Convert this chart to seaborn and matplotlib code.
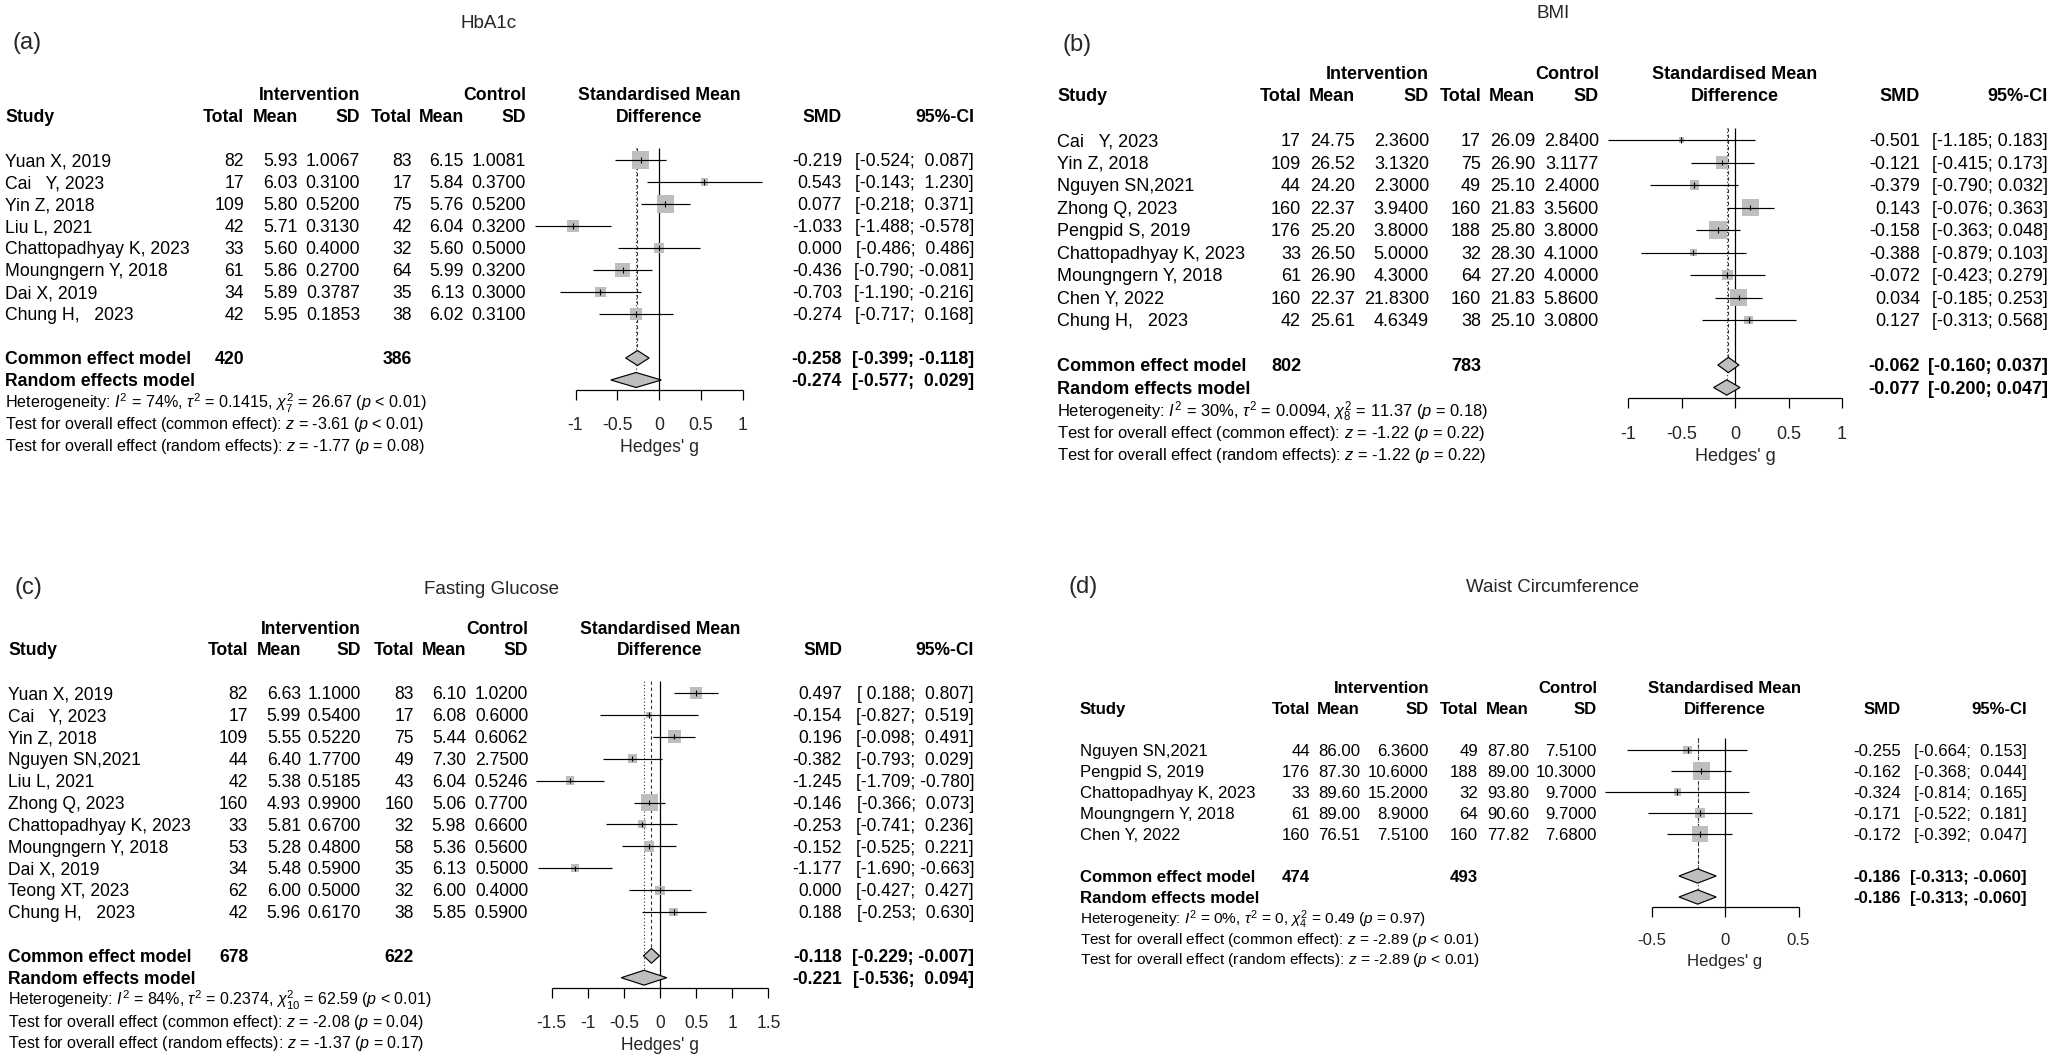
import numpy as np
import matplotlib
matplotlib.use('Agg')
import matplotlib.pyplot as plt
import matplotlib.transforms as mtransforms
import seaborn as sns

sns.set_theme(style='white')
plt.rcParams['font.family'] = ['Liberation Sans', 'DejaVu Sans']
plt.rcParams['mathtext.fontset'] = 'custom'
plt.rcParams['mathtext.rm'] = 'Liberation Sans'
plt.rcParams['mathtext.it'] = 'Liberation Sans:italic'
plt.rcParams['mathtext.bf'] = 'Liberation Sans:bold'

W, H = 2055, 1058
BOX = '#bebebe'

# --- (a) HbA1c ---
study_a = ['Yuan X, 2019', 'Cai   Y, 2023', 'Yin Z, 2018', 'Liu L, 2021',
           'Chattopadhyay K, 2023', 'Moungngern Y, 2018', 'Dai X, 2019', 'Chung H,   2023']
n1_a = [82, 17, 109, 42, 33, 61, 34, 42]
m1_a = [5.93, 6.03, 5.80, 5.71, 5.60, 5.86, 5.89, 5.95]
s1_a = [1.0067, 0.3100, 0.5200, 0.3130, 0.4000, 0.2700, 0.3787, 0.1853]
n2_a = [83, 17, 75, 42, 32, 64, 35, 38]
m2_a = [6.15, 5.84, 5.76, 6.04, 5.60, 5.99, 6.13, 6.02]
s2_a = [1.0081, 0.3700, 0.5200, 0.3200, 0.5000, 0.3200, 0.3000, 0.3100]
smd_a = [-0.219, 0.543, 0.077, -1.033, 0.000, -0.436, -0.703, -0.274]
lo_a = [-0.524, -0.143, -0.218, -1.488, -0.486, -0.790, -1.190, -0.717]
hi_a = [0.087, 1.230, 0.371, -0.578, 0.486, -0.081, -0.216, 0.168]
common_a = [-0.258, -0.399, -0.118]
random_a = [-0.274, -0.577, 0.029]
totals_a = [420, 386]
het_a = ['74%', '0.1415', '7', '26.67', '< 0.01']
z_a = ['-3.61', '< 0.01', '-1.77', '= 0.08']
ticks_a = [-1, -0.5, 0, 0.5, 1]

# --- (b) BMI ---
study_b = ['Cai   Y, 2023', 'Yin Z, 2018', 'Nguyen SN,2021', 'Zhong Q, 2023', 'Pengpid S, 2019',
           'Chattopadhyay K, 2023', 'Moungngern Y, 2018', 'Chen Y, 2022', 'Chung H,   2023']
n1_b = [17, 109, 44, 160, 176, 33, 61, 160, 42]
m1_b = [24.75, 26.52, 24.20, 22.37, 25.20, 26.50, 26.90, 22.37, 25.61]
s1_b = [2.3600, 3.1320, 2.3000, 3.9400, 3.8000, 5.0000, 4.3000, 21.8300, 4.6349]
n2_b = [17, 75, 49, 160, 188, 32, 64, 160, 38]
m2_b = [26.09, 26.90, 25.10, 21.83, 25.80, 28.30, 27.20, 21.83, 25.10]
s2_b = [2.8400, 3.1177, 2.4000, 3.5600, 3.8000, 4.1000, 4.0000, 5.8600, 3.0800]
smd_b = [-0.501, -0.121, -0.379, 0.143, -0.158, -0.388, -0.072, 0.034, 0.127]
lo_b = [-1.185, -0.415, -0.790, -0.076, -0.363, -0.879, -0.423, -0.185, -0.313]
hi_b = [0.183, 0.173, 0.032, 0.363, 0.048, 0.103, 0.279, 0.253, 0.568]
common_b = [-0.062, -0.160, 0.037]
random_b = [-0.077, -0.200, 0.047]
totals_b = [802, 783]
het_b = ['30%', '0.0094', '8', '11.37', '= 0.18']
z_b = ['-1.22', '= 0.22', '-1.22', '= 0.22']
ticks_b = [-1, -0.5, 0, 0.5, 1]

# --- (c) Fasting Glucose ---
study_c = ['Yuan X, 2019', 'Cai   Y, 2023', 'Yin Z, 2018', 'Nguyen SN,2021', 'Liu L, 2021',
           'Zhong Q, 2023', 'Chattopadhyay K, 2023', 'Moungngern Y, 2018', 'Dai X, 2019',
           'Teong XT, 2023', 'Chung H,   2023']
n1_c = [82, 17, 109, 44, 42, 160, 33, 53, 34, 62, 42]
m1_c = [6.63, 5.99, 5.55, 6.40, 5.38, 4.93, 5.81, 5.28, 5.48, 6.00, 5.96]
s1_c = [1.1000, 0.5400, 0.5220, 1.7700, 0.5185, 0.9900, 0.6700, 0.4800, 0.5900, 0.5000, 0.6170]
n2_c = [83, 17, 75, 49, 43, 160, 32, 58, 35, 32, 38]
m2_c = [6.10, 6.08, 5.44, 7.30, 6.04, 5.06, 5.98, 5.36, 6.13, 6.00, 5.85]
s2_c = [1.0200, 0.6000, 0.6062, 2.7500, 0.5246, 0.7700, 0.6600, 0.5600, 0.5000, 0.4000, 0.5900]
smd_c = [0.497, -0.154, 0.196, -0.382, -1.245, -0.146, -0.253, -0.152, -1.177, 0.000, 0.188]
lo_c = [0.188, -0.827, -0.098, -0.793, -1.709, -0.366, -0.741, -0.525, -1.690, -0.427, -0.253]
hi_c = [0.807, 0.519, 0.491, 0.029, -0.780, 0.073, 0.236, 0.221, -0.663, 0.427, 0.630]
common_c = [-0.118, -0.229, -0.007]
random_c = [-0.221, -0.536, 0.094]
totals_c = [678, 622]
het_c = ['84%', '0.2374', '10', '62.59', '< 0.01']
z_c = ['-2.08', '= 0.04', '-1.37', '= 0.17']
ticks_c = [-1.5, -1, -0.5, 0, 0.5, 1, 1.5]

# --- (d) Waist Circumference ---
study_d = ['Nguyen SN,2021', 'Pengpid S, 2019', 'Chattopadhyay K, 2023', 'Moungngern Y, 2018', 'Chen Y, 2022']
n1_d = [44, 176, 33, 61, 160]
m1_d = [86.00, 87.30, 89.60, 89.00, 76.51]
s1_d = [6.3600, 10.6000, 15.2000, 8.9000, 7.5100]
n2_d = [49, 188, 32, 64, 160]
m2_d = [87.80, 89.00, 93.80, 90.60, 77.82]
s2_d = [7.5100, 10.3000, 9.7000, 9.7000, 7.6800]
smd_d = [-0.255, -0.162, -0.324, -0.171, -0.172]
lo_d = [-0.664, -0.368, -0.814, -0.522, -0.392]
hi_d = [0.153, 0.044, 0.165, 0.181, 0.047]
common_d = [-0.186, -0.313, -0.060]
random_d = [-0.186, -0.313, -0.060]
totals_d = [474, 493]
het_d = ['0%', '0', '4', '0.49', '= 0.97']
z_d = ['-2.89', '< 0.01', '-2.89', '< 0.01']
ticks_d = [-0.5, 0, 0.5]

panels = [
    dict(tag='(a)', title='HbA1c', study=study_a, n1=n1_a, m1=m1_a, s1=s1_a, n2=n2_a, m2=m2_a, s2=s2_a,
         smd=smd_a, lo=lo_a, hi=hi_a, common=common_a, random=random_a, totals=totals_a,
         het=het_a, z=z_a, ticks=ticks_a),
    dict(tag='(b)', title='BMI', study=study_b, n1=n1_b, m1=m1_b, s1=s1_b, n2=n2_b, m2=m2_b, s2=s2_b,
         smd=smd_b, lo=lo_b, hi=hi_b, common=common_b, random=random_b, totals=totals_b,
         het=het_b, z=z_b, ticks=ticks_b),
    dict(tag='(c)', title='Fasting Glucose', study=study_c, n1=n1_c, m1=m1_c, s1=s1_c, n2=n2_c, m2=m2_c, s2=s2_c,
         smd=smd_c, lo=lo_c, hi=hi_c, common=common_c, random=random_c, totals=totals_c,
         het=het_c, z=z_c, ticks=ticks_c),
    dict(tag='(d)', title='Waist Circumference', study=study_d, n1=n1_d, m1=m1_d, s1=s1_d, n2=n2_d, m2=m2_d, s2=s2_d,
         smd=smd_d, lo=lo_d, hi=hi_d, common=common_d, random=random_d, totals=totals_d,
         het=het_d, z=z_d, ticks=ticks_d),
]

# layout in pixels of the final image (x from left, y from top)
layouts = [
    dict(y0=160, pitch=22.0, study=5, cols=[244, 298, 360, 412, 464, 526], zero=659, ppu=83.5,
         smd=842, ci=974, title=(489, 24), tag=(13, 43)),
    dict(y0=140, pitch=22.5, study=1057, cols=[1301, 1355, 1429, 1481, 1535, 1599], zero=1735, ppu=107,
         smd=1920, ci=2048, title=(1553, 13), tag=(1063, 45)),
    dict(y0=693, pitch=21.9, study=8, cols=[248, 301, 361, 414, 466, 528], zero=660, ppu=72.3,
         smd=842, ci=974, title=(491, 589), tag=(14, 588)),
    dict(y0=750, pitch=21.0, study=1080, cols=[1310, 1360, 1429, 1478, 1529, 1597], zero=1725, ppu=147,
         smd=1901, ci=2027, title=(1553, 588), tag=(1069, 587)),
]

fig = plt.figure(figsize=(W / 100, H / 100), dpi=100)
px = mtransforms.Affine2D().scale(1 / W, 1 / H) + fig.transFigure


def fmt_num(v, pad):
    s = f'{v:.3f}'
    return ' ' + s if pad and v >= 0 else s


def draw_panel(d, lay):
    n = len(d['study'])
    rows = np.arange(n, dtype=float)
    smd, lo, hi = np.array(d['smd']), np.array(d['lo']), np.array(d['hi'])
    ticks = d['ticks']
    y0, pitch, zero, ppu = lay['y0'], lay['pitch'], lay['zero'], lay['ppu']
    top_i, bot_i = -0.55, n + 2.47

    left = zero + ticks[0] * ppu
    width = (ticks[-1] - ticks[0]) * ppu
    top_px = y0 + top_i * pitch
    h_px = (bot_i - top_i) * pitch
    ax = fig.add_axes([left / W, 1 - (top_px + h_px) / H, width / W, h_px / H])

    fs = 0.576 * pitch
    fs_small = fs * 0.917
    base = 0.286  # shift from row centre to baseline
    tr = mtransforms.blended_transform_factory(px, ax.transData)

    def put(x, y, s, ha='right', bold=False, size=fs, trans=tr):
        ax.text(x, y + base, s, transform=trans, ha=ha, va='baseline', fontsize=size,
                fontweight='bold' if bold else 'normal', color='black')

    # headers
    c = lay['cols']
    put(c[2], -3, 'Intervention', bold=True)
    put(c[5], -3, 'Control', bold=True)
    put(zero, -3, 'Standardised Mean', ha='center', bold=True)
    put(lay['study'], -2, 'Study', ha='left', bold=True)
    for x, s in zip(c, ['Total', 'Mean', 'SD', 'Total', 'Mean', 'SD']):
        put(x, -2, s, bold=True)
    put(zero, -2, 'Difference', ha='center', bold=True)
    put(lay['smd'], -2, 'SMD', bold=True)
    put(lay['ci'], -2, '95%-CI', bold=True)

    # CI column formatting (pad positives when the column holds negatives)
    all_lo = list(d['lo']) + [d['common'][1], d['random'][1]]
    all_hi = list(d['hi']) + [d['common'][2], d['random'][2]]
    pad_lo = min(all_lo) < 0 and max(all_lo) >= 0
    pad_hi = min(all_hi) < 0 and max(all_hi) >= 0

    for i in range(n):
        put(lay['study'], i, d['study'][i], ha='left')
        put(c[0], i, str(d['n1'][i]))
        put(c[1], i, f"{d['m1'][i]:.2f}")
        put(c[2], i, f"{d['s1'][i]:.4f}")
        put(c[3], i, str(d['n2'][i]))
        put(c[4], i, f"{d['m2'][i]:.2f}")
        put(c[5], i, f"{d['s2'][i]:.4f}")
        put(lay['smd'], i, f'{smd[i]:.3f}')
        put(lay['ci'], i, f'[{fmt_num(lo[i], pad_lo)}; {fmt_num(hi[i], pad_hi)}]')

    # pooled rows
    for k, (label, est) in enumerate([('Common effect model', d['common']),
                                      ('Random effects model', d['random'])]):
        y = n + 1 + k
        put(lay['study'], y, label, ha='left', bold=True)
        put(lay['smd'], y, f'{est[0]:.3f}', bold=True)
        put(lay['ci'], y, f'[{fmt_num(est[1], pad_lo)}; {fmt_num(est[2], pad_hi)}]', bold=True)
    put(c[0], n + 1, str(d['totals'][0]), bold=True)
    put(c[3], n + 1, str(d['totals'][1]), bold=True)

    # heterogeneity and tests
    i2, tau2, df, q, pq = d['het']
    zc, pc, zr, pr = d['z']
    put(lay['study'], n + 3.0,
        rf'Heterogeneity: $I^2$ = {i2}, $\tau^2$ = {tau2}, $\chi^2_{{{df}}}$ = {q} ($p$ {pq})',
        ha='left', size=fs_small)
    put(lay['study'], n + 3.95, rf'Test for overall effect (common effect): $z$ = {zc} ($p$ {pc})',
        ha='left', size=fs_small)
    put(lay['study'], n + 4.92, rf'Test for overall effect (random effects): $z$ = {zr} ($p$ {pr})',
        ha='left', size=fs_small)

    # forest marks
    w = 1.0 / ((hi - lo) / 3.92) ** 2
    side_pt = 0.81 * pitch * 0.72
    sns.scatterplot(x=smd, y=rows, size=w, sizes=(0, side_pt ** 2), size_norm=(0, w.max()),
                    marker='s', color=BOX, linewidth=0, legend=False, ax=ax, zorder=2, clip_on=False)
    ax.hlines(rows, lo, hi, color='black', lw=0.85, zorder=3, clip_on=False)
    ax.vlines(smd, rows - 0.12, rows + 0.12, color='black', lw=0.8, zorder=3, clip_on=False)

    ax.vlines(0, top_i, bot_i, color='black', lw=0.9, zorder=1, clip_on=False)
    ax.vlines(d['common'][0], top_i, n + 1, color='#333333', lw=0.8, linestyles=(0, (3, 2.5)),
              zorder=1, clip_on=False)
    ax.vlines(d['random'][0], top_i, n + 2, color='#333333', lw=0.8, linestyles=(0, (1, 2)),
              zorder=1, clip_on=False)

    hh = 0.34
    for k, est in enumerate([d['common'], d['random']]):
        y = n + 1 + k
        ax.fill([est[1], est[0], est[2], est[0]], [y, y - hh, y, y + hh],
                facecolor=BOX, edgecolor='black', lw=0.85, zorder=4, clip_on=False)

    # x axis drawn on the data scale
    ax.hlines(bot_i, ticks[0], ticks[-1], color='black', lw=0.9, clip_on=False)
    ax.vlines(ticks, bot_i, bot_i + 10 / pitch, color='black', lw=0.9, clip_on=False)
    for t in ticks:
        ax.text(t, n + 4 + base, f'{t:g}', ha='center', va='baseline', fontsize=fs)
    ax.text(0, n + 5 + base, "Hedges' g", ha='center', va='baseline', fontsize=fs)

    ax.set_xlim(ticks[0], ticks[-1])
    ax.set_ylim(bot_i, top_i)
    ax.axis('off')

    fig.text(lay['title'][0] / W, 1 - lay['title'][1] / H, d['title'], ha='center', va='center',
             fontsize=13.5)
    fig.text(lay['tag'][0] / W, 1 - lay['tag'][1] / H, d['tag'], ha='left', va='center', fontsize=17)


for d, lay in zip(panels, layouts):
    draw_panel(d, lay)

fig.savefig('out.png', dpi=100, facecolor='white')
